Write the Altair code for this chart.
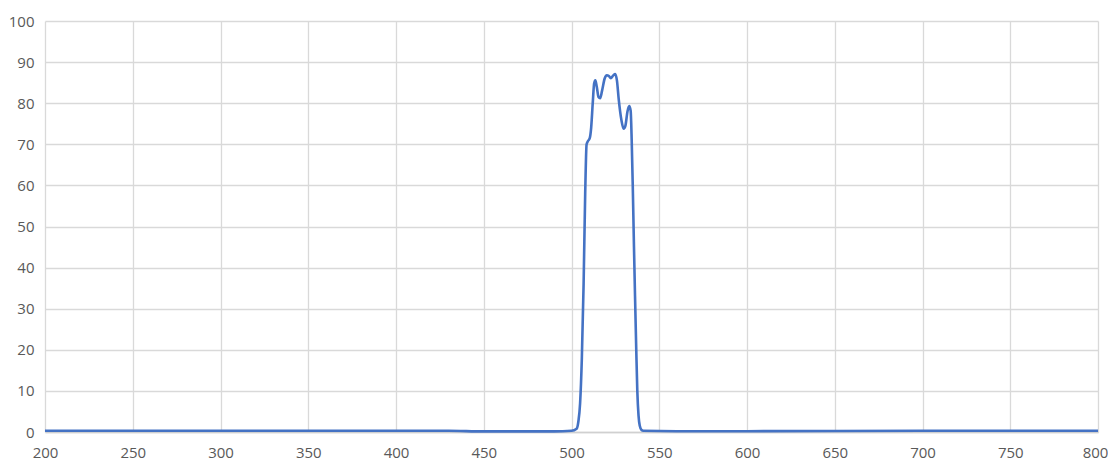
import altair as alt
import pandas as pd

wavelength = [200, 300, 400, 430, 450, 490, 500, 502.9, 503.9, 504.9, 505.9, 506.9, 507.8, 508.6,
              509.4, 510.4, 511.2, 512.1, 512.9, 513.6, 514.4, 515.4, 516.3, 517.4, 518.9,
              520.1, 521.3, 522.4, 523.7, 524.9, 525.9, 526.9, 528.4, 529.7, 530.7, 531.9, 532.9,
              533.7, 534.3, 534.9, 535.6, 536.2, 536.9, 537.5, 538.2, 538.9, 539.9, 540.9, 560,
              600, 700, 800]
transmission = [0.3, 0.3, 0.3, 0.3, 0.15, 0.15, 0.3, 0.8, 2.5, 7, 18, 36, 58, 70,
                70.8, 71.5, 74, 80, 84.8, 85.6, 84, 81.5, 81.2, 83, 86,
                86.8, 86.6, 86.1, 86.7, 87.1, 85.5, 81, 76, 73.8, 74.5, 78, 79.3,
                78.2, 71, 60, 45, 33, 20, 10, 4, 1.5, 0.5, 0.3, 0.2,
                0.2, 0.3, 0.3]

df = pd.DataFrame({"wl": wavelength, "t": transmission})

font = "Open Sans"
chart = alt.Chart(df).mark_line(
    color="#4472C4", strokeWidth=2.6, interpolate="monotone"
).encode(
    x=alt.X("wl:Q", scale=alt.Scale(domain=[200, 800], nice=False, zero=False),
            axis=alt.Axis(title=None, values=list(range(200, 801, 50)),
                          grid=True, gridColor="#d9d9d9", gridWidth=1.3,
                          domainColor="#d0d0d0", domainWidth=1.6, ticks=False,
                          labelFont=font, labelFontSize=15, labelColor="#595959",
                          labelPadding=13, labelFlush=False,
                          labelOffset={"condition": {"test": "datum.value == 800", "value": -3},
                                       "value": 0})),
    y=alt.Y("t:Q", scale=alt.Scale(domain=[0, 100], nice=False),
            axis=alt.Axis(title=None, values=list(range(0, 101, 10)),
                          grid=True, gridColor="#d9d9d9", gridWidth=1.3,
                          domain=False, ticks=False,
                          labelFont=font, labelFontSize=15, labelColor="#595959",
                          labelPadding=11, labelFlush=False)),
).properties(
    width=1053, height=411,
    autosize=alt.AutoSizeParams(type="none"),
    padding={"left": 37, "top": 13, "right": 10, "bottom": 40},
).configure_view(stroke=None)

chart.save("out.html", embed_options={"renderer": "svg", "actions": False})
